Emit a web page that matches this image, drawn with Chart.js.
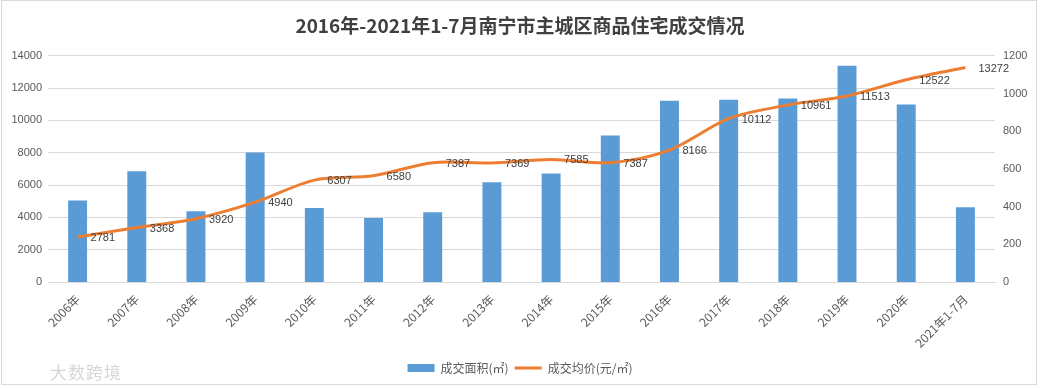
<!DOCTYPE html>
<html>
<head>
<meta charset="utf-8">
<script src="https://cdn.jsdelivr.net/npm/chart.js@4"></script>
<style>
  html, body { margin: 0; padding: 0; background: #fff; }
  #wrap { position: relative; width: 1040px; height: 388px; }
  #frame { position: absolute; left: 1px; top: 0; width: 1036px; height: 385px; border: 1px solid #d9d9d9; box-sizing: border-box; pointer-events: none; }
  #mark { position: absolute; left: 50px; top: 359px; font: 17px 'Noto Sans CJK SC', sans-serif; color: #d6d6d6; letter-spacing: 1px; }
</style>
</head>
<body>
<div id="wrap">
  <canvas id="chart" width="1040" height="388"></canvas>
  <div id="frame"></div>
  <div id="mark">大数跨境</div>
</div>
<script>
// ── Data ───────────────────────────────────────────────
const years = ['2006年','2007年','2008年','2009年','2010年','2011年','2012年','2013年',
               '2014年','2015年','2016年','2017年','2018年','2019年','2020年','2021年1-7月'];
const areaVals  = [433, 587, 375, 687, 393, 340, 370, 529, 576, 777, 962, 967, 973, 1147, 941, 396];
const priceVals = [2781, 3368, 3920, 4940, 6307, 6580, 7387, 7369, 7585, 7387, 8166, 10112, 10961, 11513, 12522, 13272];

const numFont = "'Liberation Sans', 'Noto Sans CJK SC', sans-serif";
const cjkFont = "'Noto Sans CJK SC', 'Liberation Sans', sans-serif";

// ── Value labels on the price line ─────────────────────
const priceLabels = {
  id: 'priceLabels',
  afterDatasetsDraw(chart) {
    const meta = chart.getDatasetMeta(1);
    const ctx = chart.ctx;
    ctx.save();
    ctx.font = '11px ' + numFont;
    ctx.fillStyle = '#404040';
    ctx.textAlign = 'left';
    ctx.textBaseline = 'middle';
    meta.data.forEach((pt, i) => {
      ctx.fillText(String(priceVals[i]), pt.x + 13, pt.y + 1);
    });
    ctx.restore();
  }
};

new Chart(document.getElementById('chart'), {
  type: 'bar',
  data: {
    labels: years,
    datasets: [
      {
        type: 'bar',
        label: '成交面积(㎡)',
        data: areaVals,
        yAxisID: 'yR',
        backgroundColor: '#5b9bd5',
        barPercentage: 0.64,
        categoryPercentage: 0.5,
        order: 2
      },
      {
        type: 'line',
        label: '成交均价(元/㎡)',
        data: priceVals,
        yAxisID: 'yL',
        borderColor: '#ed7d31',
        backgroundColor: '#ed7d31',
        borderWidth: 3,
        pointRadius: 0,
        tension: 0.3,
        order: 1
      }
    ]
  },
  options: {
    responsive: false,
    animation: false,
    layout: { padding: { left: 0, right: 0, bottom: 4 } },
    plugins: {
      title: {
        display: true,
        text: '2016年-2021年1-7月南宁市主城区商品住宅成交情况',
        color: '#404040',
        font: { family: cjkFont, size: 19, weight: 'bold' },
        padding: { top: 14, bottom: 19 }
      },
      legend: {
        position: 'bottom',
        labels: {
          color: '#595959',
          font: { family: cjkFont, size: 12 },
          usePointStyle: true,
          pointStyleWidth: 27,
          boxWidth: 27,
          boxHeight: 8,
          padding: 6,
          sort: (a, b) => a.datasetIndex - b.datasetIndex,
          generateLabels(chart) {
            return chart.data.datasets.map((ds, i) => ({
              text: ds.label,
              datasetIndex: i,
              fillStyle: ds.type === 'line' ? ds.borderColor : ds.backgroundColor,
              strokeStyle: ds.type === 'line' ? ds.borderColor : ds.backgroundColor,
              lineWidth: ds.type === 'line' ? 3 : 0,
              fontColor: '#595959',
              pointStyle: ds.type === 'line' ? 'line' : 'rect',
              hidden: false
            }));
          }
        }
      },
      tooltip: { enabled: false }
    },
    scales: {
      x: {
        grid: { display: false },
        border: { color: '#d9d9d9' },
        ticks: {
          color: '#595959',
          font: { family: cjkFont, size: 12 },
          minRotation: 45,
          maxRotation: 45,
          padding: 2
        },
        afterFit(scale) { scale.height = 74; }
      },
      yL: {
        position: 'left',
        min: 0,
        max: 14000,
        ticks: { stepSize: 2000, color: '#595959', font: { family: numFont, size: 11 }, padding: 6, callback: v => String(v) },
        grid: { color: '#d9d9d9', drawTicks: false },
        border: { display: false },
        afterFit(scale) { scale.width = 48; }
      },
      yR: {
        position: 'right',
        min: 0,
        max: 1200,
        ticks: { stepSize: 200, color: '#595959', font: { family: numFont, size: 11 }, padding: 8, callback: v => String(v) },
        grid: { display: false, drawTicks: false },
        border: { display: false },
        afterFit(scale) { scale.width = 45; }
      }
    }
  },
  plugins: [priceLabels]
});
</script>
</body>
</html>
